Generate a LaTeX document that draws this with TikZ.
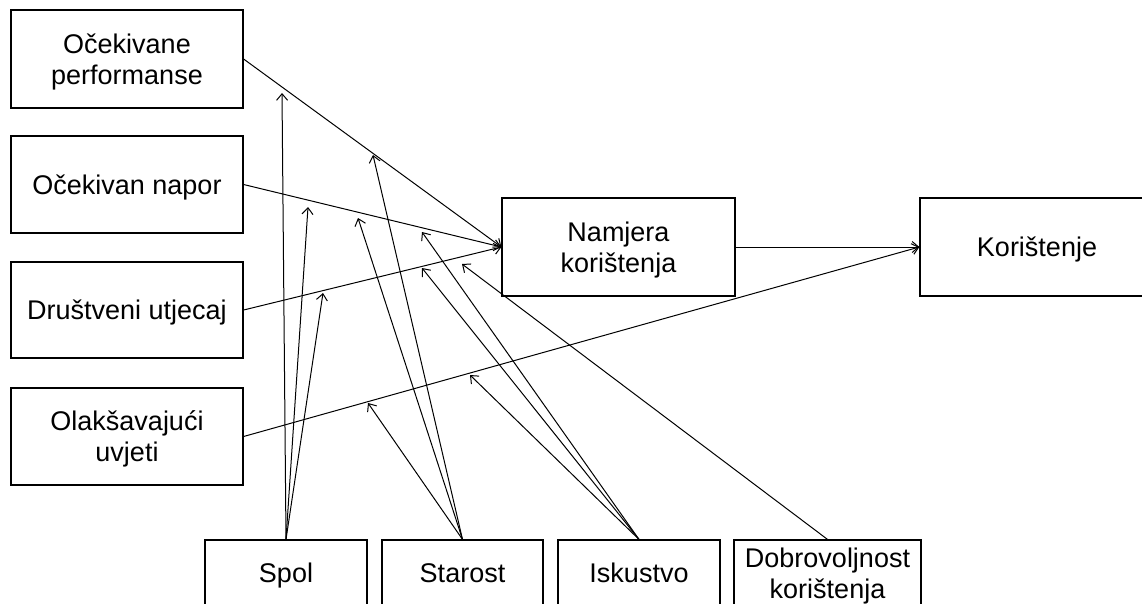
\documentclass[tikz,border=0pt]{standalone}
\usepackage{fontspec}
\setmainfont{Liberation Sans}
\usetikzlibrary{arrows.meta}
\newcommand\firststrut{\rule{0pt}{25pt}}
\begin{document}
\begin{tikzpicture}[x=1pt,y=-1pt,
  box/.style={draw, line width=1.2pt, rectangle, align=center, inner sep=0pt,
    font=\fontsize{27}{31}\selectfont},
  oneline/.style={box, text height=19pt, text depth=0pt},
  conn/.style={line width=1pt, -{Straight Barb[length=6.5pt,width=11pt]}}]
\useasboundingbox (0,0) rectangle (1142,603);
% left column
\node[box, minimum width=232pt, minimum height=98pt] (perf) at (127,59) {\firststrut Očekivane\\performanse};
\node[oneline, minimum width=232pt, minimum height=97pt] (napor) at (127,184.5) {Očekivan napor};
\node[oneline, minimum width=232pt, minimum height=96pt] (drus) at (127,310) {Društveni utjecaj};
\node[box, minimum width=232pt, minimum height=97pt] (olak) at (127,436.5) {\firststrut Olakšavajući\\uvjeti};
% middle and right
\node[box, minimum width=233pt, minimum height=98pt] (nam) at (618.5,247) {\firststrut Namjera\\korištenja};
\node[oneline, minimum width=234pt, minimum height=98pt] (kor) at (1037,247) {Korištenje};
% bottom row
\node[oneline, minimum width=162pt, minimum height=66pt] (spol) at (286,573) {Spol};
\node[oneline, minimum width=161pt, minimum height=66pt] (star) at (462.5,573) {Starost};
\node[oneline, minimum width=162pt, minimum height=66pt] (isk) at (639,573) {Iskustvo};
\node[box, minimum width=187pt, minimum height=66pt] (dobr) at (827.5,573) {\firststrut Dobrovoljnost\\korištenja};
% arrow tips of moderators
\coordinate (t1) at (282,93);
\coordinate (t2) at (308,207);
\coordinate (t3) at (323,293);
\coordinate (t4) at (373,155);
\coordinate (t5) at (358,218);
\coordinate (t6) at (368,403);
\coordinate (t7) at (422,232);
\coordinate (t8) at (422,268);
\coordinate (t9) at (470,375);
\coordinate (t10) at (462,264);
% main paths
\draw[conn] (perf.east) -- (nam.west);
\draw[conn] (napor.east) -- (nam.west);
\draw[conn] (drus.east) -- (nam.west);
\draw[conn] (olak.east) -- (kor.west);
\draw[conn] (nam.east) -- (kor.west);
% moderators
\draw[conn] (spol.north) -- (t1);
\draw[conn] (spol.north) -- (t2);
\draw[conn] (spol.north) -- (t3);
\draw[conn] (star.north) -- (t4);
\draw[conn] (star.north) -- (t5);
\draw[conn] (star.north) -- (t6);
\draw[conn] (isk.north) -- (t7);
\draw[conn] (isk.north) -- (t8);
\draw[conn] (isk.north) -- (t9);
\draw[conn] (dobr.north) -- (t10);
\end{tikzpicture}
\end{document}
